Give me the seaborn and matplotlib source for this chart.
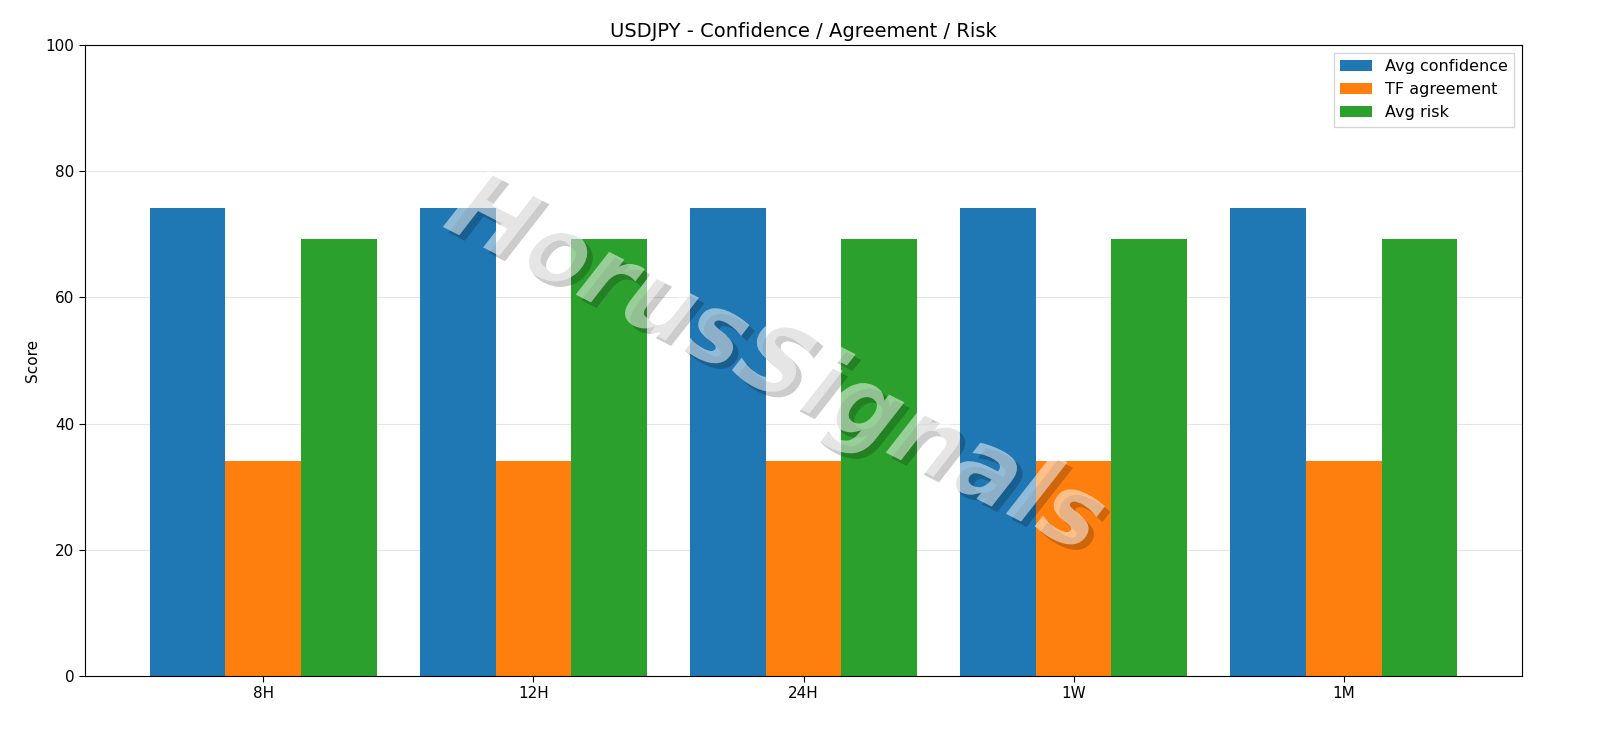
import matplotlib
matplotlib.use("Agg")
import matplotlib.pyplot as plt
import matplotlib.patheffects as pe
import seaborn as sns
import pandas as pd

timeframes = ["8H", "12H", "24H", "1W", "1M"]
avg_confidence = [74.2, 74.2, 74.2, 74.2, 74.2]
tf_agreement = [34.0, 34.0, 34.0, 34.0, 34.0]
avg_risk = [69.3, 69.3, 69.3, 69.3, 69.3]
series_names = ["Avg confidence", "TF agreement", "Avg risk"]

rows = []
for name, vals in zip(series_names, [avg_confidence, tf_agreement, avg_risk]):
    for tf, v in zip(timeframes, vals):
        rows.append({"tf": tf, "series": name, "value": v})
df = pd.DataFrame(rows)

sns.set_style("white")
plt.rcParams['font.family'] = ['DejaVu Sans']
for k in ["text.color", "axes.labelcolor", "xtick.color", "ytick.color"]:
    plt.rcParams[k] = "black"
fig = plt.figure(figsize=(16, 7.38), dpi=100)
ax = fig.add_axes([85/1600, 1-676/738, (1522-85)/1600, (676-45)/738])
sns.barplot(data=df, x="tf", y="value", hue="series", order=timeframes,
            hue_order=series_names, palette=["#1f77b4", "#ff7f0e", "#2ca02c"],
            width=0.84, gap=0, saturation=1, errorbar=None, ax=ax, zorder=2,
            linewidth=0, edgecolor="none")
ax.set_ylim(0, 100)
ax.set_xlim(-0.66, 4.66)
ax.set_xlabel("")
ax.set_ylabel("Score", fontsize=11)
ax.set_title("USDJPY - Confidence / Agreement / Risk", fontsize=14)
ax.yaxis.grid(True, color="#e6e6e6", linewidth=0.8, zorder=0)
ax.set_axisbelow(True)
for s in ax.spines.values():
    s.set_color("black")
ax.tick_params(axis="both", labelsize=11, length=4, left=True, bottom=True)
leg = ax.legend(loc="upper right", fontsize=11.5, frameon=True, fancybox=False, edgecolor="#cccccc")
leg.set_title(None)
ax.text(0.48, 0.49, "HorusSignals", transform=ax.transAxes, fontsize=70,
        style="italic", weight="bold",
        color="white", alpha=0.3, rotation=-27, ha="center", va="center",
        path_effects=[pe.withSimplePatchShadow(offset=(4, -4), shadow_rgbFace="black", alpha=0.2), pe.Normal()],
        zorder=5)
fig.savefig("out.png", dpi=100)
